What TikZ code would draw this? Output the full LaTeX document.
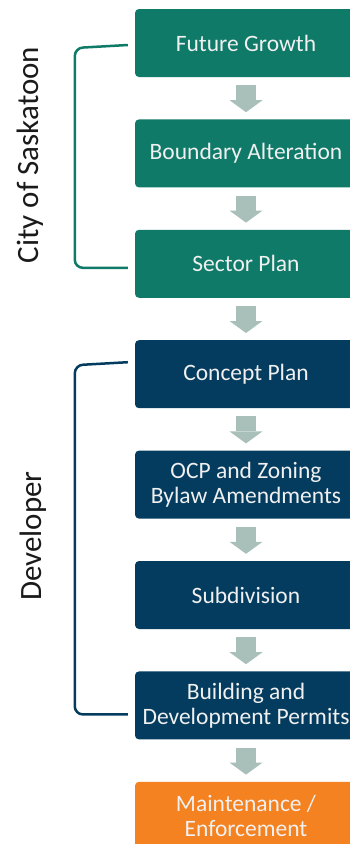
\documentclass[tikz,border=0pt]{standalone}
\usepackage{fontspec}
\setmainfont{Carlito}
\usetikzlibrary{positioning,arrows.meta}

\definecolor{cityteal}{RGB}{15,122,104}
\definecolor{devnavy}{RGB}{4,60,95}
\definecolor{endorange}{RGB}{245,130,32}
\definecolor{arrowgrey}{RGB}{169,191,185}
\definecolor{labelgrey}{RGB}{26,26,26}

\begin{document}
\begin{tikzpicture}[x=1pt, y=1pt,
    stagebox/.style={rectangle, rounded corners=4pt, minimum width=222pt, minimum height=68pt,
        inner sep=2pt, align=center, text=white!94!black, font=\fontsize{23.5}{25}\selectfont},
    citystage/.style={stagebox, fill=cityteal},
    devstage/.style={stagebox, fill=devnavy},
    endstage/.style={stagebox, fill=endorange},
    flowarrow/.style={arrowgrey, line width=20pt, shorten <=8pt, shorten >=7pt,
        -{Triangle[width=33pt, length=12pt, line width=0pt]}},
    sidelabel/.style={rotate=90, text=labelgrey, font=\fontsize{31}{31}\selectfont},
    groupbrace/.style={line width=2.5pt, rounded corners=8pt}]
    \useasboundingbox (0,0) rectangle (350,-844);
    \clip (0,0) rectangle (350,-844);
    \begin{scope}
        % City of Saskatoon stages
        \node[citystage] (growth) at (246,-43) {Future Growth};
        \node[citystage, below=42pt of growth] (boundary) {Boundary Alteration};
        \node[citystage, below=42pt of boundary] (sector) {Sector Plan};

        % Developer stages
        \node[devstage, below=42pt of sector] (concept) {Concept Plan};
        \node[devstage, below=42pt of concept] (ocp) {OCP and Zoning\\Bylaw Amendments};
        \node[devstage, below=42pt of ocp] (subdivision) {Subdivision};
        \node[devstage, below=42pt of subdivision] (permits) {Building and\\Development Permits};

        % Last stage
        \node[endstage, below=42pt of permits] (upkeep) {Maintenance /\\Enforcement};

        % Block arrows between stages
        \draw[flowarrow] (growth) -- (boundary);
        \draw[flowarrow] (boundary) -- (sector);
        \draw[flowarrow] (sector) -- (concept);
        \draw[flowarrow] (concept) -- (ocp);
        \draw[flowarrow] (ocp) -- (subdivision);
        \draw[flowarrow] (subdivision) -- (permits);
        \draw[flowarrow] (permits) -- (upkeep);

        % Group brackets and their labels
        \draw[groupbrace, cityteal] ([xshift=-7pt, yshift=-2pt]growth.west) -- ++(-53pt,-3pt)
            |- ([xshift=-7pt, yshift=-4pt]sector.west);
        \draw[groupbrace, devnavy] ([xshift=-7pt, yshift=12pt]concept.west) -- ++(-53pt,-3pt)
            |- ([xshift=-7pt, yshift=-9pt]permits.west);
        \node[sidelabel] (citylabel) at (30,-155) {City of Saskatoon};
        \node[sidelabel] (devlabel) at (33,-536) {Developer};
    \end{scope}
\end{tikzpicture}
\end{document}
